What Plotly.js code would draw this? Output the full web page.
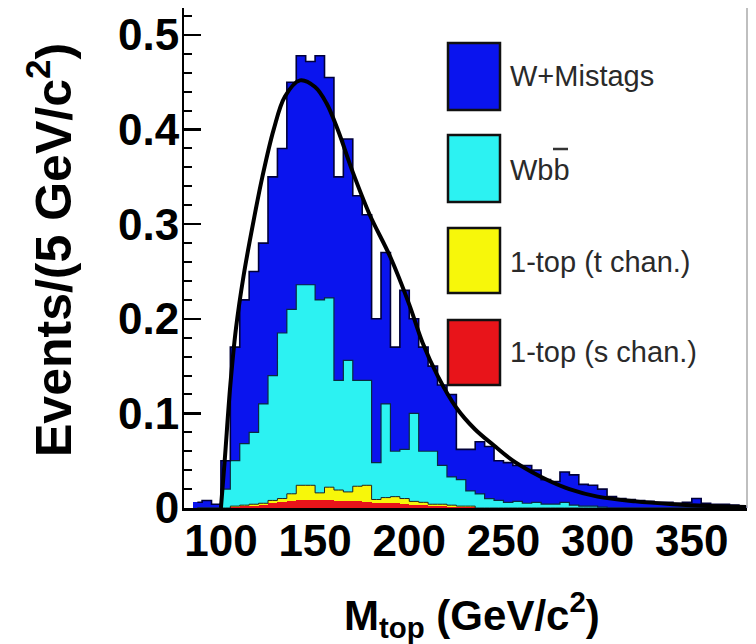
<!DOCTYPE html>
<html>
<head>
<meta charset="utf-8">
<script src="https://cdn.plot.ly/plotly-3.0.1.min.js"></script>
<style>html,body{margin:0;padding:0;background:#fff;}#chart{width:756px;height:644px;}</style>
</head>
<body>
<div id="chart"></div>
<script>
// Bin centres (5 GeV/c^2 bins)
const massBins = [87.5, 92.5, 97.5, 102.5, 107.5, 112.5, 117.5, 122.5, 127.5, 132.5,
  137.5, 142.5, 147.5, 152.5, 157.5, 162.5, 167.5, 172.5, 177.5, 182.5,
  187.5, 192.5, 197.5, 202.5, 207.5, 212.5, 217.5, 222.5, 227.5, 232.5,
  237.5, 242.5, 247.5, 252.5, 257.5, 262.5, 267.5, 272.5, 277.5, 282.5,
  287.5, 292.5, 297.5, 302.5, 307.5, 312.5, 317.5, 322.5, 327.5, 332.5,
  337.5, 342.5, 347.5, 352.5, 357.5, 362.5, 367.5, 372.5, 377.5];

const wMistags = [0.006, 0.008, 0.004, 0.030, 0.120, 0.152, 0.170, 0.170, 0.210, 0.195,
  0.240, 0.242, 0.236, 0.258, 0.233, 0.215, 0.234, 0.195, 0.175, 0.152,
  0.160, 0.110, 0.168, 0.100, 0.110, 0.090, 0.085, 0.087, 0.032, 0.044,
  0.055, 0.055, 0.042, 0.042, 0.038, 0.040, 0.034, 0.026, 0.024, 0.032,
  0.032, 0.023, 0.022, 0.019, 0.012, 0.010, 0.009, 0.008, 0.007, 0.006,
  0.006, 0.005, 0.006, 0.010, 0.005, 0.004, 0.004, 0.003, 0.002];

const wbb = [0, 0, 0, 0.020, 0.048, 0.065, 0.076, 0.105, 0.132, 0.175,
  0.195, 0.212, 0.212, 0.204, 0.200, 0.116, 0.139, 0.112, 0.111, 0.039,
  0.099, 0.048, 0.052, 0.093, 0.054, 0.056, 0.041, 0.030, 0.028, 0.016,
  0.015, 0.010, 0.008, 0.006, 0.007, 0.005, 0.006, 0.004, 0.004, 0.006,
  0.003, 0.002, 0.002, 0.001, 0, 0, 0, 0, 0, 0,
  0, 0, 0, 0, 0, 0, 0, 0, 0];

const tChan = [0, 0, 0, 0, 0.001, 0.001, 0.002, 0.002, 0.003, 0.004,
  0.008, 0.016, 0.016, 0.008, 0.014, 0.012, 0.010, 0.016, 0.018, 0.004,
  0.006, 0.007, 0.006, 0.004, 0.003, 0.002, 0.002, 0.002, 0.001, 0.001,
  0, 0, 0, 0, 0, 0, 0, 0, 0, 0,
  0, 0, 0, 0, 0, 0, 0, 0, 0, 0,
  0, 0, 0, 0, 0, 0, 0, 0, 0];

const sChan = [0, 0, 0, 0, 0.001, 0.002, 0.002, 0.003, 0.005, 0.006,
  0.007, 0.008, 0.008, 0.008, 0.008, 0.007, 0.007, 0.007, 0.006, 0.005,
  0.005, 0.005, 0.004, 0.003, 0.003, 0.002, 0.002, 0.001, 0.001, 0.001,
  0, 0, 0, 0, 0, 0, 0, 0, 0, 0,
  0, 0, 0, 0, 0, 0, 0, 0, 0, 0,
  0, 0, 0, 0, 0, 0, 0, 0, 0];

// Fit curve
const fitMass = [100, 102, 105, 108, 112, 117, 122, 128, 134, 142, 150, 156, 162, 170, 179,
  190, 200, 207, 215, 225, 235, 245, 255, 265, 275, 285, 300, 320, 340, 360, 379];
const fitVal = [0, 0.05, 0.13, 0.19, 0.245, 0.30, 0.35, 0.40, 0.435, 0.452, 0.445, 0.428, 0.40, 0.355, 0.31,
  0.265, 0.215, 0.175, 0.14, 0.106, 0.083, 0.066, 0.05, 0.038, 0.028, 0.02, 0.012, 0.007, 0.004, 0.002, 0.001];

const xTicks = [100, 150, 200, 250, 300, 350];
const legendLabels = ['W+Mistags', 'Wbb', '1-top (t chan.)', '1-top (s chan.)'];

const colBlue = '#0a14ee', colCyan = '#2cf2f2', colYellow = '#f7f70a', colRed = '#e8141a';

const lvlT = sChan.map((v, i) => v + tChan[i]);
const lvlC = lvlT.map((v, i) => v + wbb[i]);
const lvlAll = lvlC.map((v, i) => v + wMistags[i]);

function bar(y, color) {
  return {type: 'bar', x: massBins, y: y, width: 5, marker: {color: color, line: {width: 0}},
    hoverinfo: 'skip', showlegend: false};
}
function step(y, color, w) {
  return {type: 'scatter', mode: 'lines', x: massBins, y: y, line: {shape: 'hvh', color: color, width: w},
    hoverinfo: 'skip', showlegend: false};
}

const traces = [
  bar(sChan, colRed), bar(tChan, colYellow), bar(wbb, colCyan), bar(wMistags, colBlue),
  step(lvlT, '#222', 1), step(lvlC, '#0a2a40', 1.2), step(lvlAll, '#00003a', 1.6),
  {type: 'scatter', mode: 'lines', x: fitMass, y: fitVal, line: {shape: 'spline', smoothing: 1, color: '#000', width: 4},
    hoverinfo: 'skip', showlegend: false}
];

const L = 184, R = 747, T = 8, B = 508;
const px = x => (x - L) / (R - L);
const py = y => (B - y) / (B - T);

const swatches = [[43, 110, colBlue], [135, 202, colCyan], [228, 293, colYellow], [320, 385, colRed]];
const textY = [76, 170, 262, 352];

const shapes = swatches.map(s => ({type: 'rect', xref: 'paper', yref: 'paper',
  x0: px(448), x1: px(500), y0: py(s[1]), y1: py(s[0]), fillcolor: s[2], line: {color: '#111', width: 2.5}}));
shapes.push({type: 'line', xref: 'paper', yref: 'paper', x0: px(553), x1: px(568), y0: py(149), y1: py(149),
  line: {color: '#333', width: 2.5}});
shapes.push({type: 'line', xref: 'paper', yref: 'paper', x0: 1, x1: 1, y0: 0, y1: 1, line: {color: '#aaa', width: 1.5}});

const annotations = legendLabels.map((t, i) => ({xref: 'paper', yref: 'paper', x: px(508), y: py(textY[i]),
  xanchor: 'left', yanchor: 'middle', showarrow: false, text: t,
  font: {family: 'Liberation Sans, Arial, sans-serif', size: 29, color: '#2a2a2a'}}));
annotations.push({xref: 'paper', yref: 'paper', x: px(472), y: py(614), xanchor: 'center', yanchor: 'middle',
  showarrow: false, text: 'M<sub>top</sub> (GeV/c<sup>2</sup>)',
  font: {family: 'Liberation Sans, Arial, sans-serif', size: 42, color: '#000', weight: 'bold'}});
annotations.push({xref: 'paper', yref: 'paper', x: px(50), y: py(250), xanchor: 'center', yanchor: 'middle',
  showarrow: false, textangle: -90, text: 'Events/(5 GeV/c<sup>2</sup>)',
  font: {family: 'Liberation Sans, Arial, sans-serif', size: 50, color: '#000', weight: 'bold'}});

const tickFont = {family: 'Liberation Sans Narrow, Liberation Sans, Arial, sans-serif', size: 44, color: '#000', weight: 'bold'};

const layout = {
  width: 756, height: 644,
  margin: {l: L, r: 756 - R, t: T, b: 644 - B},
  paper_bgcolor: '#fff', plot_bgcolor: '#fff',
  barmode: 'stack', bargap: 0,
  xaxis: {range: [80.4, 379.3], tickvals: xTicks, ticks: '', showgrid: false, zeroline: false,
    showline: true, linecolor: '#000', linewidth: 3, tickfont: tickFont, ticklabelstandoff: -8},
  yaxis: {range: [0, 0.5285], tick0: 0, dtick: 0.1, ticks: 'inside', ticklen: 17, tickwidth: 2.5, tickcolor: '#000',
    minor: {ticks: 'inside', ticklen: 8, dtick: 0.02, tickwidth: 2, tickcolor: '#000'},
    showgrid: false, zeroline: false, showline: true, linecolor: '#000', linewidth: 2,
    tickfont: tickFont, ticklabelstandoff: -6},
  shapes: shapes, annotations: annotations, showlegend: false
};

Plotly.newPlot('chart', traces, layout, {staticPlot: true});
</script>
</body>
</html>
